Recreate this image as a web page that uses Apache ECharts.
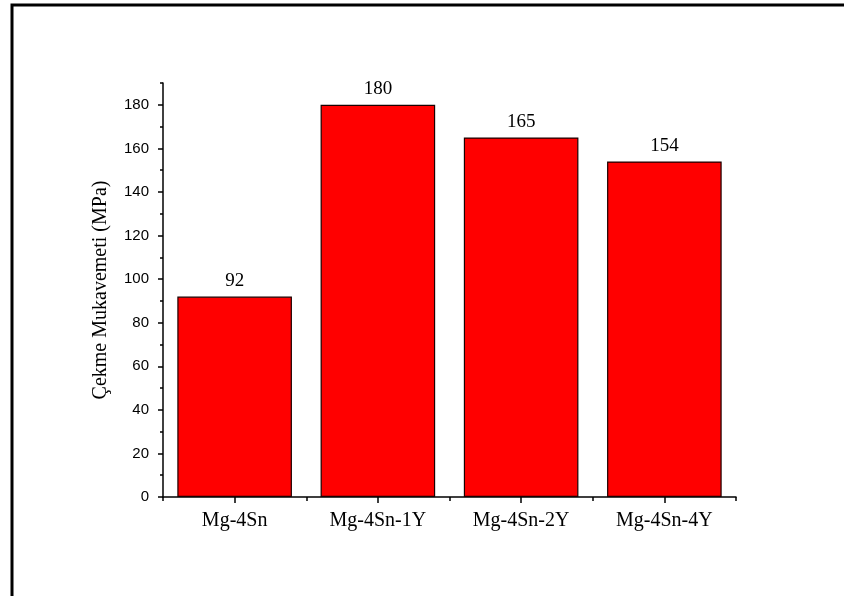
<!DOCTYPE html>
<html>
<head>
<meta charset="utf-8">
<script src="https://cdn.jsdelivr.net/npm/echarts@6/dist/echarts.min.js"></script>
<style>
  html, body { margin: 0; padding: 0; background: #fff; }
  #chart { width: 844px; height: 596px; }
</style>
</head>
<body>
<div id="chart"></div>
<script>
// Alloy samples and their tensile strength (MPa)
const alloys = ['Mg-4Sn', 'Mg-4Sn-1Y', 'Mg-4Sn-2Y', 'Mg-4Sn-4Y'];
const strength = [92, 180, 165, 154];
const majorTicks = [0, 20, 40, 60, 80, 100, 120, 140, 160, 180];

const serif = '"Liberation Serif", "Times New Roman", serif';
const sans = '"Liberation Sans", Tahoma, sans-serif';

const chart = echarts.init(document.getElementById('chart'), null, { renderer: 'canvas' });

chart.setOption({
  backgroundColor: '#ffffff',
  animation: false,
  grid: { left: 163, top: 83, right: 108, bottom: 99, containLabel: false },
  graphic: [
    // frame along the left and top edges
    {
      type: 'polyline',
      shape: { points: [[12, 596], [12, 5], [844, 5]] },
      style: { stroke: '#000', lineWidth: 3, fill: null }
    }
  ],
  xAxis: [
    {
      type: 'category',
      data: alloys,
      axisLine: { show: true, lineStyle: { color: '#000', width: 1.5 } },
      axisTick: { show: true, alignWithLabel: true, length: 6, lineStyle: { color: '#000', width: 1.5 } },
      axisLabel: { color: '#000', fontFamily: serif, fontSize: 20, margin: 14 },
      splitLine: { show: false }
    },
    {
      // short ticks on the category boundaries
      type: 'category',
      data: alloys,
      position: 'bottom',
      axisLine: { show: false },
      axisTick: { show: true, length: 4, lineStyle: { color: '#000', width: 1.5 } },
      axisLabel: { show: false },
      splitLine: { show: false }
    }
  ],
  yAxis: [
    {
      type: 'value',
      min: 0,
      max: 190,
      interval: 10,
      name: 'Çekme Mukavemeti (MPa)',
      nameLocation: 'middle',
      nameGap: 52,
      nameTextStyle: { color: '#000', fontFamily: serif, fontSize: 20 },
      axisLine: { show: true, lineStyle: { color: '#000', width: 1.5 } },
      axisTick: { show: true, length: 3, lineStyle: { color: '#000', width: 1.5 } },
      axisLabel: {
        color: '#000', fontFamily: sans, fontSize: 15, margin: 14,
        formatter: v => (v % 20 === 0 && v <= 180) ? String(v) : ''
      },
      splitLine: { show: false }
    },
    {
      // longer ticks at the labelled values
      type: 'value',
      min: 0,
      max: 190,
      interval: 10,
      position: 'left',
      axisLine: { show: false },
      axisTick: { show: true, length: 5, customValues: majorTicks, lineStyle: { color: '#000', width: 1.5 } },
      axisLabel: { show: false },
      splitLine: { show: false }
    }
  ],
  series: [
    {
      type: 'bar',
      data: strength,
      xAxisIndex: 0,
      yAxisIndex: 0,
      barCategoryGap: '20%',
      itemStyle: { color: '#ff0000', borderColor: '#1a0000', borderWidth: 1.2 },
      label: {
        show: true,
        position: 'top',
        distance: 6,
        color: '#000',
        fontFamily: serif,
        fontSize: 19
      }
    }
  ]
});
</script>
</body>
</html>
